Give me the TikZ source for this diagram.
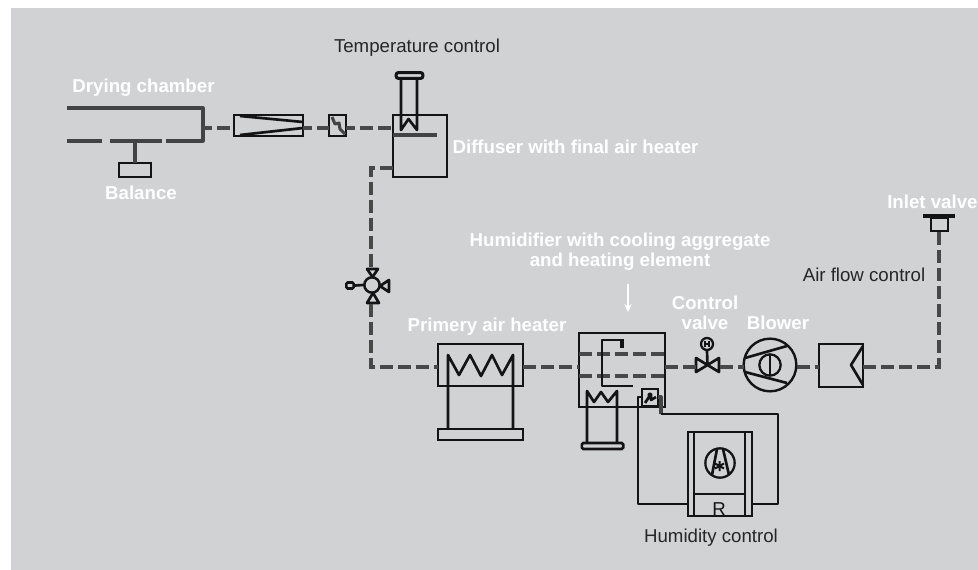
\documentclass[tikz,border=0pt]{standalone}
\usepackage{fontspec}
\setmainfont{Liberation Sans}
\usetikzlibrary{arrows.meta}
\definecolor{bg}{HTML}{D1D2D4}
\definecolor{ink}{HTML}{141414}
\definecolor{pipeink}{HTML}{484848}
\newcommand{\pxbox}[6][]{\node[boxn,#1,minimum width={(#5-#3)*0.75pt},minimum height={(#6-#4)*0.75pt}] (#2) at ({(#3+#5)/2},{(#4+#6)/2}) {};}
\tikzset{
  x=0.75pt,y=-0.75pt,
  boxn/.style={draw=ink,line width=2.15pt,inner sep=0pt,outer sep=0pt},
  thin line/.style={draw=ink,line width=2pt,line join=round},
  thick line/.style={draw=ink!80,line width=2.3pt,line join=round},
  pipe/.style={draw=pipeink,line width=2.3pt,dash pattern=on 9.5pt off 4pt},
  whitelab/.style={text=white,font=\fontsize{14}{15.2}\selectfont\bfseries,inner sep=0pt,align=center},
  blacklab/.style={text=black!85,font=\fontsize{14}{17}\selectfont,inner sep=0pt,align=center},
}
\begin{document}
\begin{tikzpicture}
\useasboundingbox (0,0) rectangle (978,570);
\fill[white] (0,0) rectangle (978,570);
\fill[bg] (11,8) rectangle (978,570);

% ports
\coordinate (chamberOut) at (203,128);
\coordinate (coneIn) at (234,128);
\coordinate (coneOut) at (303,128);
\coordinate (sepIn) at (329,128);
\coordinate (sepOut) at (346,128);
\coordinate (diffIn) at (393,128);
\coordinate (diffOut) at (393,168);
\coordinate (diffCorner) at (371,168);
\coordinate (vTop) at (371,269);
\coordinate (vBot) at (371,304);
\coordinate (heatCorner) at (371,367);
\coordinate (heatIn) at (438,367);
\coordinate (heatOut) at (523,367);
\coordinate (humIn) at (579,367);
\coordinate (humOut) at (665,367);
\coordinate (cvIn) at (696,367);
\coordinate (cvOut) at (720,367);
\coordinate (blIn) at (744,367);
\coordinate (blOut) at (797,367);
\coordinate (filtIn) at (819,367);
\coordinate (filtOut) at (863,367);
\coordinate (inletCorner) at (939,367);
\coordinate (inletIn) at (939,232);

% drying chamber
\draw[thick line] (67,108) -- (203,108) -- (203,141) -- (166,141);
\draw[thick line] (110,141) -- (162,141);
\draw[thick line] (67,141) -- (102,141);
\pxbox{balance}{119}{163}{151}{177}
\draw[thick line] (135,141) -- (balance.north);

% cone
\pxbox{cone}{234}{115}{303}{136}
\draw[thin line] (240,116) -- (303,122);
\draw[thin line] (240,135) -- (303,128);

% separator
\pxbox{sep}{329}{115}{346}{136}
\draw[thick line] (332,117) -- (335,124) -- (339,123) -- (340,129) -- (345,134);

% diffuser
\pxbox{diff}{393}{115}{447}{177}
\draw[thick line] (393,135) -- (437,135);
\node[draw=ink,line width=2.3pt,rounded corners=1.5pt,minimum width=20pt,minimum height=4.2pt,inner sep=0pt] (tcap) at (409.5,75.5) {};
\draw[thin line] (401,78) -- (401,130) -- (408.5,119) -- (417,130) -- (417,78);

% three-way valve
\node[circle,draw=ink,line width=1.9pt,minimum size=11.5pt,inner sep=0pt] (v3) at (372,285) {};
\draw[thin line] (367,269) -- (378,269) -- (372.5,277) -- cycle;
\draw[thin line] (367,303) -- (379,303) -- (373,293) -- cycle;
\draw[thin line] (389,280) -- (389,292) -- (380,286) -- cycle;
\node[draw=ink,line width=1.9pt,rounded corners=1pt,minimum width=5.5pt,minimum height=4.5pt,inner sep=0pt] (vh) at (350,285.5) {};
\draw[thin line] (vh.east) -- (v3.west);

% primary heater
\pxbox{heater}{438}{344}{523}{386}
\pxbox{heatbar}{438}{429}{523}{440}
\draw[thin line] (448,429) -- (448,355) -- (459,375) -- (470,355) -- (481,376) -- (492,355) -- (502,375) -- (513,355) -- (513,429);

% humidifier
\pxbox{hum}{579}{333}{665}{407}
\draw[pipe] (579,354) -- (665,354);
\draw[pipe] (579,376) -- (665,376);
\draw[thin line] (633,386) -- (602,386) -- (602,340) -- (622,340);
\draw[draw=ink,line width=3.4pt] (622,339) -- (622,348);
\node[draw=ink,line width=2pt,rounded corners=1pt,minimum width=31pt,minimum height=4.5pt,inner sep=0pt] (hbar) at (602.5,446) {};
\draw[thin line] (587,443) -- (587,391) -- (594,402) -- (601,392) -- (608,402) -- (617,391) -- (617,443);
\pxbox{sensor}{642}{389}{658}{406}
\draw[thin line] (645,403) -- (649,397) -- (649,394) -- (651,394) -- (651,400) -- (656,397);

% humidity control
\pxbox{ctrl}{688}{432}{752}{516}
\draw[thin line] (694,432) -- (694,516);
\draw[thin line] (745,432) -- (745,516);
\draw[thin line] (694,494) -- (745,494);
\node[circle,draw=ink,line width=1.7pt,minimum size=22pt,inner sep=0pt] (fan) at (720,463) {};
\draw[thin line] (717,449) -- (712,475);
\draw[thin line] (723,449) -- (729,475);
\draw[ink,line width=1.5pt] (719.5,461) -- (719.5,471) (715,463.5) -- (724,468.5) (715,468.5) -- (724,463.5);
\node[inner sep=0pt,text=ink,font=\fontsize{14}{14}\selectfont] (rlab) at (719,509) {R};
\coordinate (sensL) at (642,397);
\coordinate (sensR) at (658,397);
\draw[thin line] (sensL) -- (638,397) -- (638,504) -- (ctrl.west |- 0,504);
\draw[thick line] (sensR) -- (661,397) -- (661,414);
\draw[thin line] (661,414) -- (778,414) -- (778,504) -- (ctrl.east |- 0,504);

% control valve
\node[circle,draw=ink,line width=1.7pt,minimum size=9pt,inner sep=0pt] (cvh) at (707,344) {};
\draw[line width=1.1pt,ink] (705,341) -- (705,347) (709,341) -- (709,347) (705,344) -- (709,344);
\draw[thin line] (696,358) -- (696,372) -- (719,358) -- (719,372) -- cycle;
\draw[thin line] (cvh.south) -- (707.5,365);

% blower
\node[circle,draw=ink,line width=1.8pt,minimum size=39.5pt,inner sep=0pt] (blower) at (770,365) {};
\node[circle,draw=ink,line width=1.7pt,minimum size=16pt,inner sep=0pt] (blhub) at (770,365) {};
\draw[thin line] (770,354) -- (770,376);
\draw[thin line] (745,358) -- (787,346);
\draw[thin line] (745,372) -- (787,383);

% filter
\pxbox{filt}{819}{344}{863}{387}
\draw[thin line] (863,346) -- (851,365) -- (863,385);

% inlet
\draw[draw=ink,line width=3pt] (923,216.5) coordinate (capL) -- (955,216.5) coordinate (capR);
\pxbox{inlet}{931}{218}{948}{231}

% pipes
\draw[pipe,dash phase=3pt] (chamberOut) -- (coneIn);
\draw[pipe,dash phase=3pt] (coneOut) -- (sepIn);
\draw[pipe,dash phase=3pt] (sepOut) -- (diffIn);
\draw[pipe] (diffOut) -- (diffCorner) -- (vTop);
\draw[pipe] (vBot) -- (heatCorner) -- (heatIn);
\draw[pipe] (heatOut) -- (humIn);
\draw[pipe] (humOut) -- (cvIn);
\draw[pipe] (cvOut) -- (blIn);
\draw[pipe] (blOut) -- (filtIn);
\draw[pipe] (filtOut) -- (inletCorner) -- (inletIn);

% labels
\node[whitelab] (l1) at (143.5,88) {Drying chamber};
\node[whitelab] (l2) at (141,193) {Balance};
\node[blacklab] (l3) at (417,48) {Temperature control};
\node[whitelab] (l4) at (575.5,147) {Diffuser with final air heater};
\node[whitelab] (l5) at (620,252) {Humidifier with cooling aggregate\\and heating element};
\node[whitelab] (l6) at (487,327) {Primery air heater};
\node[whitelab] (l7) at (705,313) {Control\\valve};
\node[whitelab] (l8) at (778,323) {Blower};
\node[whitelab,anchor=west] (l9) at (887,202) {Inlet valve};
\node[blacklab] (l10) at (864,275) {Air flow control};
\node[blacklab] (l11) at (711,538) {Humidity control};
\coordinate (arrTop) at (628,284);
\coordinate (arrEnd) at (628,312);
\draw[white,line width=1.6pt,-{Stealth[length=6pt,width=5.5pt]}] (arrTop) -- (arrEnd);
\end{tikzpicture}
\end{document}
